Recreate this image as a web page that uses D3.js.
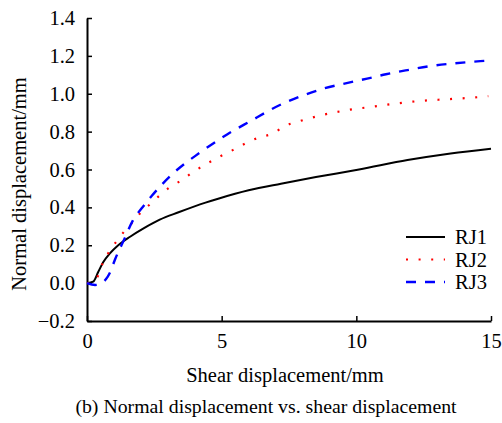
<!DOCTYPE html>
<html>
<head>
<meta charset="utf-8">
<script src="https://cdn.jsdelivr.net/npm/d3@7"></script>
<style>
  body { margin: 0; background: #fff; }
  text { font-family: "Liberation Serif", "Times New Roman", serif; fill: #000; }
</style>
</head>
<body>
<div id="chart-area"></div>
<script>
// Series data (shear displacement mm, normal displacement mm)
const rj1X = [0, 0.23, 0.42, 0.6, 0.85, 1.16, 1.6, 2.1, 2.7, 3.4, 4.4, 4.9, 6.0, 7.2, 8.5, 10.1, 11.9, 13.5, 15.0];
const rj1Y = [0, 0.008, 0.06, 0.11, 0.157, 0.2, 0.245, 0.289, 0.335, 0.374, 0.425, 0.447, 0.49, 0.525, 0.56, 0.6, 0.65, 0.685, 0.71];

const rj2X = [0, 0.25, 0.42, 0.58, 0.82, 1.08, 1.37, 1.7, 2.0, 2.37, 2.71, 3.08, 3.52, 3.91, 4.32, 4.73, 5.16, 5.58, 5.99, 6.42, 6.9, 7.35, 7.82, 8.71, 9.64, 10.57, 11.5, 12.45, 13.38, 14.35, 14.9];
const rj2Y = [0, 0.01, 0.042, 0.104, 0.165, 0.218, 0.271, 0.322, 0.373, 0.42, 0.465, 0.507, 0.544, 0.584, 0.62, 0.653, 0.685, 0.714, 0.746, 0.77, 0.79, 0.83, 0.852, 0.887, 0.913, 0.931, 0.949, 0.963, 0.971, 0.98, 0.987];

const rj3X = [0, 0.3, 0.55, 0.7, 0.85, 1.04, 1.41, 1.7, 2.03, 2.4, 3.2, 4.2, 5.2, 6.0, 7.3, 8.0, 8.8, 9.6, 10.4, 11.1, 11.9, 12.7, 13.6, 14.6, 14.9];
const rj3Y = [0, -0.01, 0, 0.02, 0.055, 0.125, 0.24, 0.33, 0.395, 0.46, 0.58, 0.69, 0.785, 0.85, 0.95, 0.99, 1.028, 1.055, 1.08, 1.103, 1.125, 1.145, 1.16, 1.172, 1.175];

const seriesNames = ['RJ1', 'RJ2', 'RJ3'];
const xTicks = [0, 5, 10, 15];
const yTicks = [-0.2, 0.0, 0.2, 0.4, 0.6, 0.8, 1.0, 1.2, 1.4];

const series = [
    { name: seriesNames[0], xs: rj1X, ys: rj1Y, color: '#000', width: 2, dash: null },
    { name: seriesNames[1], xs: rj2X, ys: rj2Y, color: '#ff0000', width: 2.2, dash: '2,10.6' },
    { name: seriesNames[2], xs: rj3X, ys: rj3Y, color: '#0000ff', width: 2.4, dash: '10,9' }
];

// Margins
const margin = { left: 87, right: 11, top: 18, bottom: 102 };
const width = 502 - margin.left - margin.right;
const height = 423 - margin.top - margin.bottom;

const svg = d3.select('#chart-area')
    .append('svg')
        .attr('width', 502)
        .attr('height', 423);

const g = svg.append('g')
    .attr('transform', 'translate(' + margin.left + ', ' + margin.top + ')');

// Scales
const x = d3.scaleLinear().domain([0, 15]).range([0, width]);
const y = d3.scaleLinear().domain([-0.2, 1.4]).range([height, 0]);

const fmtY = (d) => (d < 0 ? '\u2212' : '') + d3.format('.1f')(Math.abs(d));

// Y axis (ticks inward)
const yAxis = g.append('g')
    .call(d3.axisLeft(y).tickValues(yTicks).tickSizeInner(-5).tickSizeOuter(0).tickPadding(12).tickFormat(fmtY));

// X axis (ticks inward)
const xAxis = g.append('g')
    .attr('transform', 'translate(0, ' + height + ')')
    .call(d3.axisBottom(x).tickValues(xTicks).tickSizeInner(-5).tickSizeOuter(0).tickPadding(12));

[xAxis, yAxis].forEach((a) => {
    a.select('.domain').attr('stroke', '#000').attr('stroke-width', 2);
    a.selectAll('.tick line').attr('stroke', '#000').attr('stroke-width', 1.5);
    a.selectAll('.tick text')
        .attr('font-family', '"Liberation Serif", serif')
        .attr('font-size', '20.5px')
        .attr('fill', '#000');
});

// Lines
const line = d3.line()
    .x((d) => x(d[0]))
    .y((d) => y(d[1]))
    .curve(d3.curveMonotoneX);

series.forEach((s) => {
    const pts = s.xs.map((v, i) => [v, s.ys[i]]);
    g.append('path')
        .datum(pts)
        .attr('fill', 'none')
        .attr('stroke', s.color)
        .attr('stroke-width', s.width)
        .attr('stroke-dasharray', s.dash)
        .attr('d', line);
});

// Legend
const legend = svg.append('g').attr('transform', 'translate(406, 237)');
series.forEach((s, i) => {
    const row = legend.append('g').attr('transform', 'translate(0, ' + (i * 22.5) + ')');
    row.append('line')
        .attr('x1', 0).attr('x2', 39)
        .attr('stroke', s.color)
        .attr('stroke-width', s.width)
        .attr('stroke-dasharray', s.dash);
    row.append('text')
        .attr('x', 49)
        .attr('y', 7)
        .attr('font-size', '20.5px')
        .text(s.name);
});

// X Label
svg.append('text')
    .attr('x', 285)
    .attr('y', 382)
    .attr('font-size', '20.5px')
    .attr('text-anchor', 'middle')
    .text('Shear displacement/mm');

// Y Label
svg.append('text')
    .attr('transform', 'translate(26, 184) rotate(-90)')
    .attr('font-size', '20.5px')
    .attr('text-anchor', 'middle')
    .text('Normal displacement/mm');

// Caption
svg.append('text')
    .attr('x', 266)
    .attr('y', 413)
    .attr('font-size', '19.8px')
    .attr('text-anchor', 'middle')
    .text('(b) Normal displacement vs. shear displacement');
</script>
</body>
</html>
